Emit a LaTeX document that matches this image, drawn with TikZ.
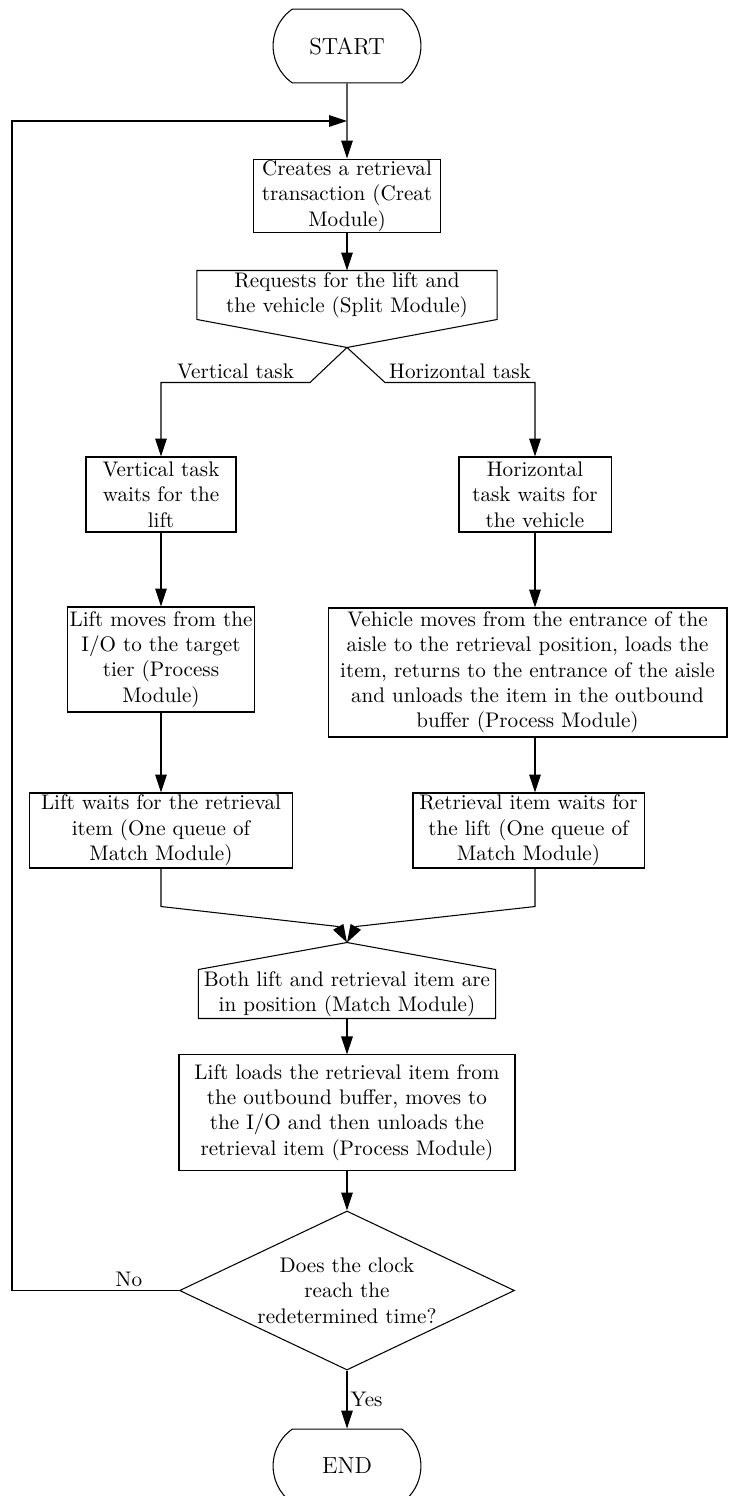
\documentclass[tikz,border=0pt]{standalone}
\usetikzlibrary{arrows.meta, positioning, calc, shapes.geometric, shapes.misc}
\begin{document}
\begin{tikzpicture}[
  x=0.4735pt, y=-0.4735pt, line width=0.5pt,
  >={Triangle[length=8.5pt,width=5.5pt]},
  box/.style={draw, rectangle, align=center, inner sep=0.5pt},
  splitbox/.style={rectangle, align=center, inner sep=0.5pt},
  term/.style={draw, rounded rectangle, rounded rectangle arc length=110, minimum width=71pt, minimum height=35pt, inner sep=0.5pt, font=\fontsize{11}{13}\selectfont},
  decision/.style={draw, diamond, aspect=2.1, align=center, inner sep=0.5pt, minimum width=158.6pt, minimum height=75.3pt},
  lbl/.style={inner sep=1.5pt}
  ]
  \useasboundingbox (0,0) rectangle (728,1496);
  % main column
  \node[term] (start) at (347,46) {START};
  \node[box, minimum width=88.5pt, minimum height=35pt] (creates) at (347,196) {Creates a retrieval\\transaction (Creat\\Module)};
  \node[splitbox, minimum width=141.6pt, minimum height=22.7pt] (split) at (347,295) {Requests for the lift and\\the vehicle (Split Module)};
  \coordinate (splittip) at ($(split.south)+(0,28)$);
  \draw (split.south west) -- (split.north west) -- (split.north east) -- (split.south east) -- (splittip) -- cycle;
  % vertical branch
  \node[box, minimum width=71pt, minimum height=35.5pt] (vwait) at (161,494.5) {Vertical task\\waits for the\\lift};
  \node[box, minimum width=88.1pt, minimum height=49.7pt] (liftmove) at (161,659.5) {Lift moves from the\\I/O to the target\\tier (Process\\Module)};
  \node[box, minimum width=124.1pt, minimum height=35.5pt] (liftwait) at (161,830.5) {Lift waits for the retrieval\\item (One queue of\\Match Module)};
  % horizontal branch
  \node[box, minimum width=72pt, minimum height=35.5pt] (hwait) at (535,494.5) {Horizontal\\task waits for\\the vehicle};
  \node[box, minimum width=188.9pt, minimum height=61.1pt] (vehmove) at (527.5,672.5) {Vehicle moves from the entrance of the\\aisle to the retrieval position, loads the\\item, returns to the entrance of the aisle\\and unloads the item in the outbound\\buffer (Process Module)};
  \node[box, minimum width=109.4pt, minimum height=35.5pt] (itemwait) at (528.5,830.5) {Retrieval item waits for\\the lift (One queue of\\Match Module)};
  % match and end
  \node[splitbox, minimum width=140.2pt, minimum height=22.7pt] (match) at (347,994) {Both lift and retrieval item are\\in position (Match Module)};
  \coordinate (matchtip) at ($(match.north)+(0,-27)$);
  \draw (match.south west) -- (match.north west) -- (matchtip) -- (match.north east) -- (match.south east) -- cycle;
  \node[box, minimum width=159.1pt, minimum height=54.5pt] (liftload) at (347,1112.5) {Lift loads the retrieval item from\\the outbound buffer, moves to\\the I/O and then unloads the\\retrieval item (Process Module)};
  \node[decision] (clock) at (347,1290.5) {Does the clock\\reach the\\redetermined time?};
  \node[term] (end) at (347,1466) {END};
  % connectors
  \coordinate (loopin) at ($(start.south)!0.5!(creates.north)$);
  \coordinate (loopx) at (12,0);
  \draw[->] (start) -- (creates);
  \draw[->] (creates) -- (split);
  \draw[->] (splittip) -- ++(-37,35) coordinate (vk) -- node[lbl, above]{Vertical task} (vk -| vwait.north) -- (vwait.north);
  \draw[->] (splittip) -- ++(38,35) coordinate (hk) -- node[lbl, above]{Horizontal task} (hk -| hwait.north) -- (hwait.north);
  \draw[->] (vwait) -- (liftmove);
  \draw[->] (liftmove) -- (liftwait);
  \draw[->] (hwait.south) -- (hwait.south |- vehmove.north);
  \draw[->] (vehmove.south -| hwait) -- (hwait |- itemwait.north);
  \draw[->] (liftwait.south) -- ++(0,38) -- ($(matchtip)+(-9,-16)$) -- (matchtip);
  \draw[->] (itemwait.south -| hwait) -- ++(0,38) -- ($(matchtip)+(9,-16)$) -- (matchtip);
  \draw[->] (match) -- (liftload);
  \draw[->] (liftload) -- (clock);
  \draw[->] (clock.south) -- node[lbl, right]{Yes} (end.north);
  \draw[->] (clock.west) -- node[lbl, above, pos=0.3]{No} (clock.west -| loopx) -- (loopx |- loopin) -- (loopin);
\end{tikzpicture}
\end{document}
